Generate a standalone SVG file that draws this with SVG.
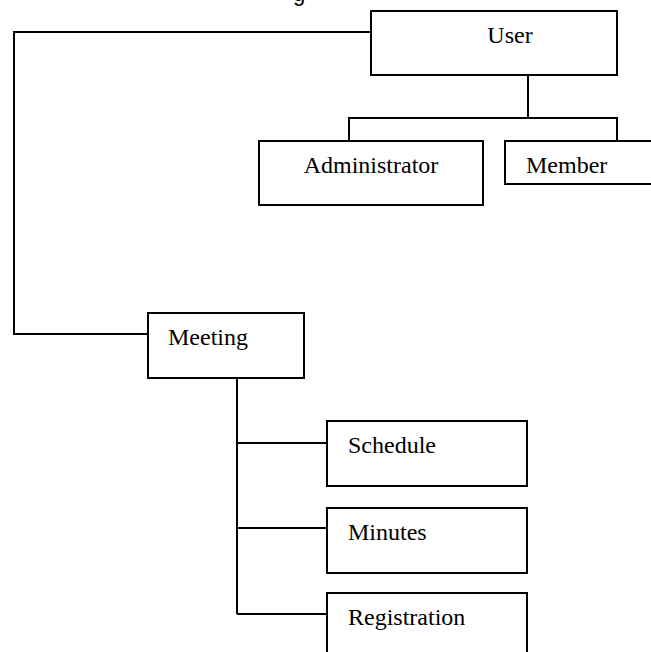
<svg xmlns="http://www.w3.org/2000/svg" width="651" height="652" viewBox="0 0 651 652">
<style>
.box{fill:#fff;stroke:#000;stroke-width:2}
.ln{fill:none;stroke:#000;stroke-width:2}
.t{font-family:"Liberation Serif","Times New Roman",serif;font-size:24px;fill:#000}
.c{text-anchor:middle}
</style>
<rect width="651" height="652" fill="#fff"/>
<text x="299" y="1" style="font-family:'Liberation Sans',Arial,sans-serif;font-size:22px" text-anchor="middle">g</text>
<g id="connectors">
<polyline class="ln" points="371,32 14,32 14,334 148,334"/>
<line class="ln" x1="528" y1="75" x2="528" y2="118"/>
<polyline class="ln" points="349,141 349,118 617,118 617,141"/>
<line class="ln" x1="237" y1="378" x2="237" y2="614"/>
<line class="ln" x1="237" y1="443" x2="327" y2="443"/>
<line class="ln" x1="237" y1="528" x2="327" y2="528"/>
<line class="ln" x1="237" y1="614" x2="327" y2="614"/>
</g>
<g id="user">
<rect class="box" x="371" y="11" width="246" height="64"/>
<text class="t c" x="510" y="43">User</text>
</g>
<g id="administrator">
<rect class="box" x="259" y="141" width="224" height="64"/>
<text class="t c" x="371" y="173">Administrator</text>
</g>
<g id="member">
<rect class="box" x="505" y="141" width="160" height="43"/>
<text class="t" x="526" y="173">Member</text>
</g>
<g id="meeting">
<rect class="box" x="148" y="313" width="156" height="65"/>
<text class="t" x="168" y="345">Meeting</text>
</g>
<g id="schedule">
<rect class="box" x="327" y="421" width="200" height="65"/>
<text class="t" x="348" y="453">Schedule</text>
</g>
<g id="minutes">
<rect class="box" x="327" y="508" width="200" height="65"/>
<text class="t" x="348" y="540">Minutes</text>
</g>
<g id="registration">
<rect class="box" x="327" y="593" width="200" height="80"/>
<text class="t" x="348" y="625">Registration</text>
</g>
</svg>
